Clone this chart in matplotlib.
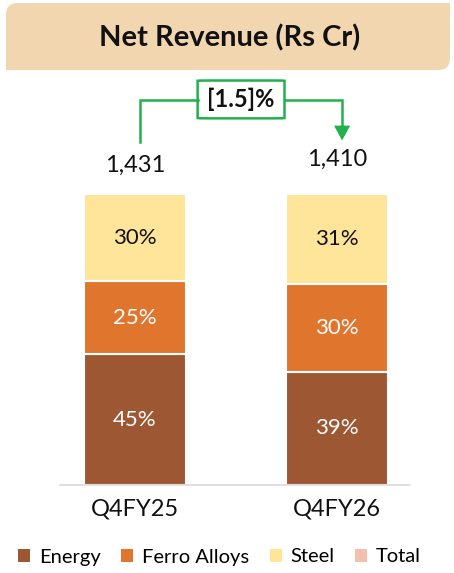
import matplotlib
matplotlib.use("Agg")
import matplotlib.pyplot as plt
from matplotlib.patches import PathPatch, Polygon, FancyBboxPatch, Patch
from matplotlib.path import Path

plt.rcParams['font.family'] = ['Lato', 'DejaVu Sans']

categories = ["Q4FY25", "Q4FY26"]
energy = [45, 39]
ferro = [25, 30]
steel = [30, 31]
totals = ["1,431", "1,410"]
change_label = "[1.5]%"
series_names = ["Energy", "Ferro Alloys", "Steel", "Total"]

c_energy = "#9E5733"
c_ferro = "#E0762E"
c_steel = "#FFE599"
c_total = "#F4C0AE"
c_green = "#22B04B"

W, H = 454, 573
fig = plt.figure(figsize=(W / 100, H / 100), dpi=100)

# Title box (rounded top-left and bottom-right)
def px(x, y):
    return (x / W, 1 - y / H)

x0, x1, y0, y1, r = 6, 450, 3, 70, 12
verts = [px(x0 + r, y0), px(x1, y0), px(x1, y1 - r), px(x1, y1), px(x1 - r, y1),
         px(x0, y1), px(x0, y0 + r), px(x0, y0), px(x0 + r, y0)]
codes = [Path.MOVETO, Path.LINETO, Path.LINETO, Path.CURVE3, Path.CURVE3,
         Path.LINETO, Path.LINETO, Path.CURVE3, Path.CURVE3]
fig.patches.append(PathPatch(Path(verts, codes), transform=fig.transFigure,
                             facecolor="#F2D6AF", edgecolor="none"))
fig.text(230 / W, 1 - 38 / H, "Net Revenue (Rs Cr)", ha="center", va="center",
         fontsize=21, fontweight="bold", color="#111111")

# Axes
ax = fig.add_axes([60 / W, (H - 485) / H, 350 / W, 291 / H])
xs = list(range(len(categories)))
bw = 0.505
ax.bar(xs, energy, bw, color=c_energy, edgecolor="white", linewidth=1.5)
ax.bar(xs, ferro, bw, bottom=energy, color=c_ferro, edgecolor="white", linewidth=1.5)
bot2 = [a + b for a, b in zip(energy, ferro)]
ax.bar(xs, steel, bw, bottom=bot2, color=c_steel, edgecolor="white", linewidth=1.5)

for i in xs:
    ax.text(i, energy[i] / 2, f"{energy[i]}%", ha="center", va="center", color="white", fontsize=16)
    ax.text(i, energy[i] + ferro[i] / 2, f"{ferro[i]}%", ha="center", va="center", color="white", fontsize=16)
    ax.text(i, bot2[i] + steel[i] / 2, f"{steel[i]}%", ha="center", va="center", color="#111111", fontsize=16)

ax.set_xlim(-0.371, 1.361)
ax.set_ylim(0, 100)
for s in ["top", "right", "left"]:
    ax.spines[s].set_visible(False)
ax.spines["bottom"].set_color("#D9D9D9")
ax.spines["bottom"].set_linewidth(1.2)
ax.set_yticks([])
ax.set_xticks(xs)
ax.set_xticklabels(categories, fontsize=17, color="#111111")
ax.tick_params(axis="x", length=0, pad=10)

# Totals
tot_y = [109.8, 111.8]
for i in xs:
    ax.text(i, tot_y[i], totals[i], ha="center", va="center", fontsize=17, color="#111111", clip_on=False)

# Connector
yline = 132.3
ax.plot([0.025, 0.025, 0.31], [117.9, yline, yline], color=c_green, lw=1.8, clip_on=False,
        solid_joinstyle="miter")
ax.plot([0.74, 1.025, 1.025], [yline, yline, 122.5], color=c_green, lw=1.8, clip_on=False,
        solid_joinstyle="miter")
ax.add_patch(Polygon([[0.985, 123.5], [1.065, 123.5], [1.025, 118.4]], closed=True,
                     facecolor=c_green, edgecolor="none", clip_on=False))
ax.add_patch(FancyBboxPatch((0.31, 126.0), 0.43, 13.0, boxstyle="round,pad=0,rounding_size=0.06",
                            mutation_aspect=1.5, facecolor="white", edgecolor=c_green, lw=1.8,
                            clip_on=False))
ax.text(0.525, 132.5, change_label, ha="center", va="center", fontsize=17, fontweight="bold",
        color="#111111", clip_on=False)

# Legend
handles = [Patch(facecolor=c) for c in [c_energy, c_ferro, c_steel, c_total]]
fig.legend(handles, series_names, loc="center", bbox_to_anchor=(0.484, 1 - 557 / H), ncol=4,
           frameon=False, fontsize=14.5, handlelength=0.6, handleheight=0.6, handletextpad=0.45,
           columnspacing=1.0)

fig.savefig("out.png", dpi=100)
